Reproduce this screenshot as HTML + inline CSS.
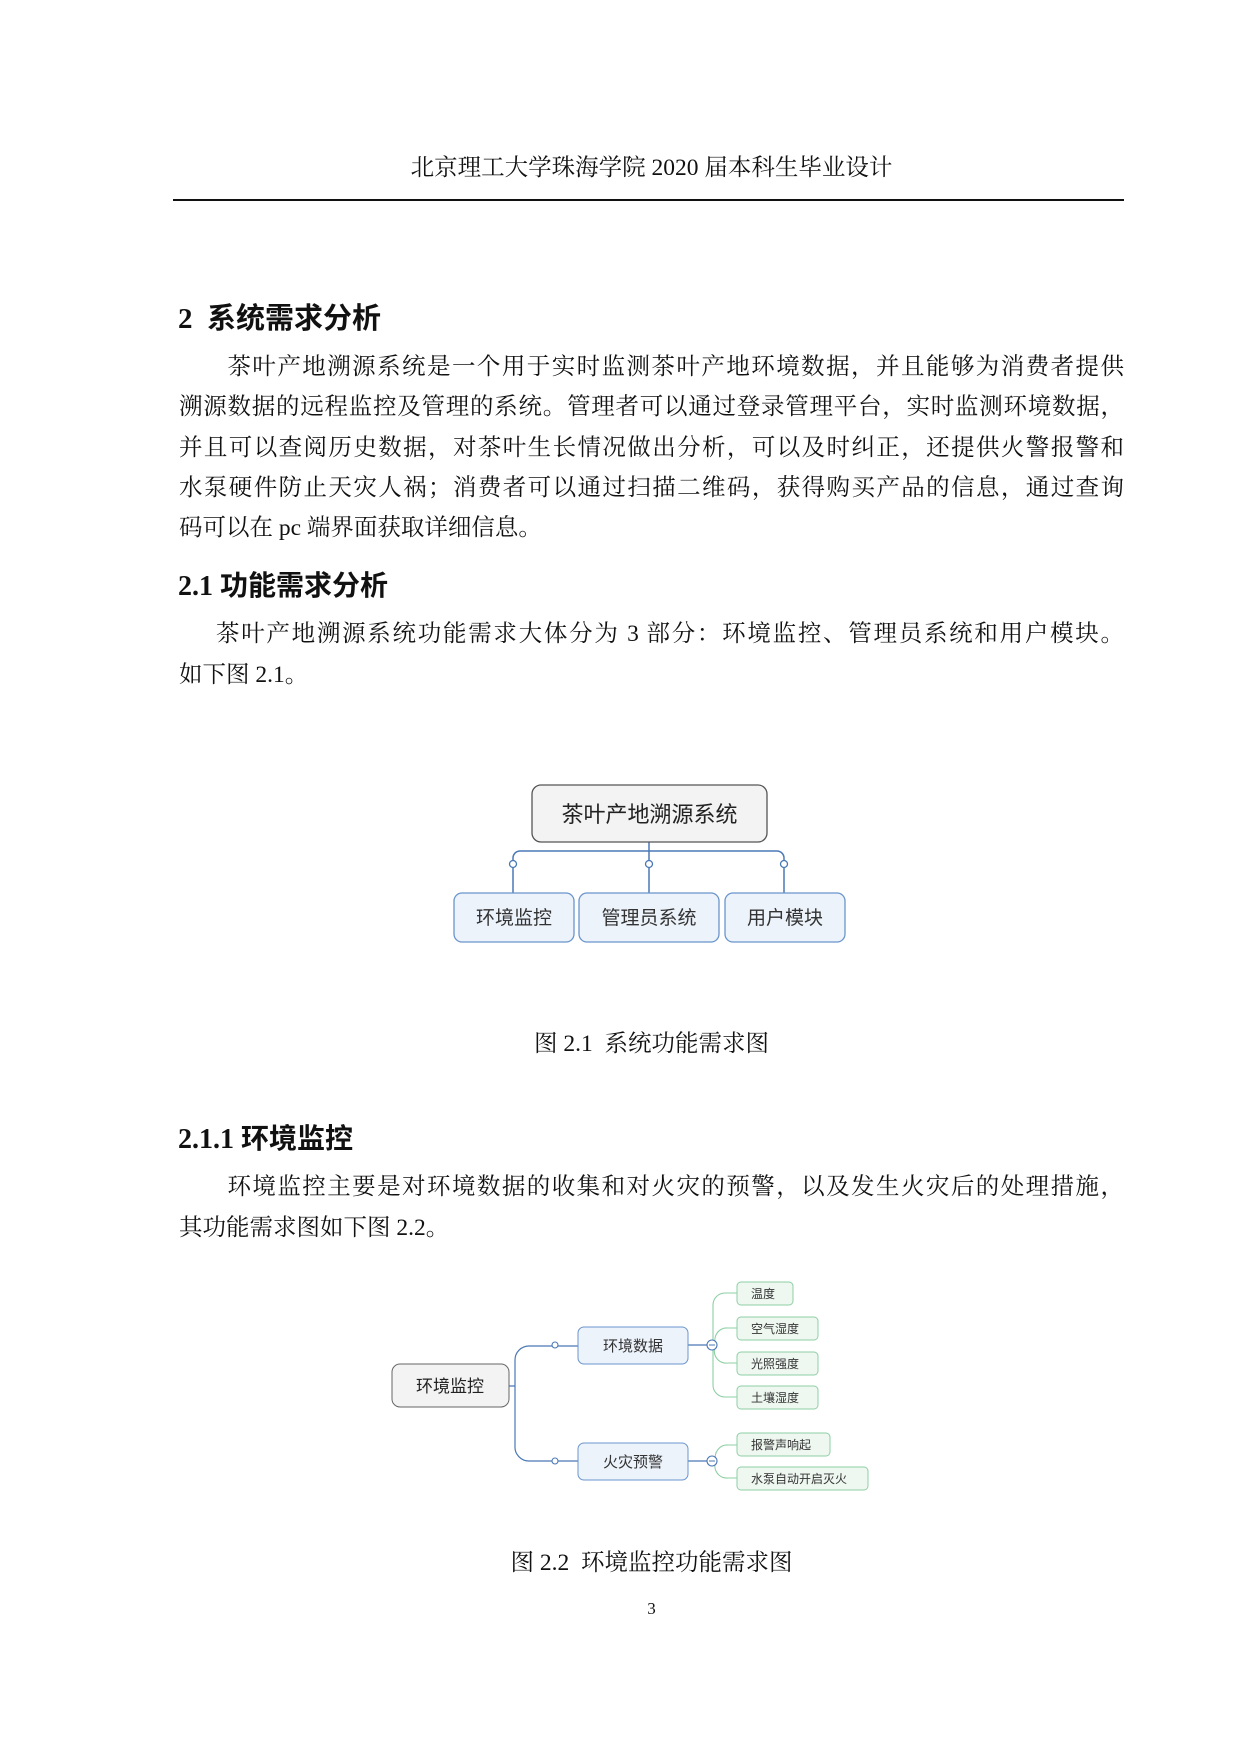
<!DOCTYPE html>
<html><head><meta charset="utf-8"><style>
body{margin:0;background:#fff}
#p{position:relative;width:1240px;height:1754px;overflow:hidden;font-family:"Liberation Serif","Noto Serif CJK SC",serif;color:#111}
.a{position:absolute;white-space:nowrap}
.t{position:absolute;left:179px;width:945px;font-size:23.5px;line-height:40.5px;text-align:justify;text-align-last:justify}
.h{position:absolute;left:178px;font-family:"Liberation Serif","Noto Sans CJK SC",sans-serif;font-weight:bold;white-space:nowrap}
.c{position:absolute;left:179px;width:945px;text-align:center;font-size:23.5px}
</style></head><body><div id="p">
<div class="c" style="top:148px">北京理工大学珠海学院 2020 届本科生毕业设计</div>
<div class="a" style="left:173px;top:199px;width:951px;height:2px;background:#111"></div>
<div class="h" style="top:295px;font-size:29px">2&nbsp; 系统需求分析</div>
<div class="t" style="top:347px">&emsp;&emsp;茶叶产地溯源系统是一个用于实时监测茶叶产地环境数据，并且能够为消费者提供</div>
<div class="t" style="top:387px">溯源数据的远程监控及管理的系统。管理者可以通过登录管理平台，实时监测环境数据，</div>
<div class="t" style="top:428px">并且可以查阅历史数据，对茶叶生长情况做出分析，可以及时纠正，还提供火警报警和</div>
<div class="t" style="top:468px">水泵硬件防止天灾人祸；消费者可以通过扫描二维码，获得购买产品的信息，通过查询</div>
<div class="t" style="top:508px;text-align-last:left">码可以在 pc 端界面获取详细信息。</div>
<div class="h" style="top:564px;font-size:28px">2.1 功能需求分析</div>
<div class="t" style="top:614px">&emsp;&ensp;茶叶产地溯源系统功能需求大体分为 3 部分：环境监控、管理员系统和用户模块。</div>
<div class="t" style="top:655px;text-align-last:left">如下图 2.1。</div>
<div class="c" style="top:1024px">图 2.1&nbsp; 系统功能需求图</div>
<div class="h" style="top:1117px;font-size:28px">2.1.1 环境监控</div>
<div class="t" style="top:1167px">&emsp;&emsp;环境监控主要是对环境数据的收集和对火灾的预警，以及发生火灾后的处理措施，</div>
<div class="t" style="top:1208px;text-align-last:left">其功能需求图如下图 2.2。</div>
<div class="c" style="top:1543px">图 2.2&nbsp; 环境监控功能需求图</div>
<div class="c" style="top:1599px;font-size:17px">3</div>

<svg class="a" style="left:0;top:0" width="1240" height="1754" font-family="Liberation Sans,Noto Sans CJK SC,sans-serif">
<g fill="none" stroke="#4a78b5" stroke-width="1.5">
<path d="M649 842V851"/>
<path d="M513 893V858a7 7 0 0 1 7-7H777a7 7 0 0 1 7 7V893"/>
<path d="M649 851V893"/>
</g>
<g fill="#fff" stroke="#4a78b5" stroke-width="1.3"><circle cx="513" cy="864" r="3.5"/><circle cx="649" cy="864" r="3.5"/><circle cx="784" cy="864" r="3.5"/></g>
<rect x="532" y="785" width="235" height="57" rx="9" fill="#f3f3f3" stroke="#555" stroke-width="1.3"/>
<text x="649.5" y="822" font-size="22" text-anchor="middle" fill="#222">茶叶产地溯源系统</text>
<g fill="#edf3fb" stroke="#6a95cc" stroke-width="1.3">
<rect x="454" y="893" width="120" height="49" rx="8"/><rect x="579" y="893" width="140" height="49" rx="8"/><rect x="725" y="893" width="120" height="49" rx="8"/></g>
<g font-size="19" text-anchor="middle" fill="#333"><text x="514" y="924">环境监控</text><text x="649" y="924">管理员系统</text><text x="785" y="924">用户模块</text></g>

<g fill="none" stroke="#4a78b5" stroke-width="1.2">
<path d="M509 1386H515M515 1360a14 14 0 0 1 14-14H578M515 1360V1446a14 14 0 0 0 14 15H578"/>
<path d="M688 1345H708M688 1461H708"/></g>
<g fill="none" stroke="#8dcfa4" stroke-width="1.1">
<path d="M737 1293H725a12 12 0 0 0-12 12V1385a12 12 0 0 0 12 12H737"/>
<path d="M716 1345a12 12 0 0 1 12-17H737M716 1345a12 12 0 0 0 12 18H737"/>
<path d="M716 1461a12 12 0 0 1 12-16H737M716 1461a12 12 0 0 0 12 17H737"/></g>
<g fill="#fff" stroke="#4a78b5" stroke-width="1.1"><circle cx="555" cy="1345" r="3"/><circle cx="555" cy="1461" r="3"/><circle cx="712" cy="1345" r="5"/><circle cx="712" cy="1461" r="5"/></g>
<path d="M709 1345H715M709 1461H715" stroke="#4a78b5"/>
<rect x="392" y="1364" width="117" height="43" rx="8" fill="#f3f3f3" stroke="#666"/>
<text x="450" y="1392" font-size="17" text-anchor="middle" fill="#222">环境监控</text>
<g fill="#edf3fb" stroke="#6a95cc"><rect x="578" y="1327" width="110" height="37" rx="6"/><rect x="578" y="1443" width="110" height="37" rx="6"/></g>
<g font-size="15" text-anchor="middle" fill="#333"><text x="633" y="1351">环境数据</text><text x="633" y="1467">火灾预警</text></g>
<g fill="#eef7f0" stroke="#8dcfa4"><rect x="737" y="1282" width="56" height="23" rx="4"/><rect x="737" y="1317" width="81" height="23" rx="4"/><rect x="737" y="1352" width="81" height="23" rx="4"/><rect x="737" y="1386" width="81" height="23" rx="4"/><rect x="737" y="1433" width="93" height="23" rx="4"/><rect x="737" y="1467" width="131" height="23" rx="4"/></g>
<g font-size="12" fill="#333"><text x="751" y="1298">温度</text><text x="751" y="1333">空气湿度</text><text x="751" y="1368">光照强度</text><text x="751" y="1402">土壤湿度</text><text x="751" y="1449">报警声响起</text><text x="751" y="1483">水泵自动开启灭火</text></g>
</svg>
</div></body></html>
